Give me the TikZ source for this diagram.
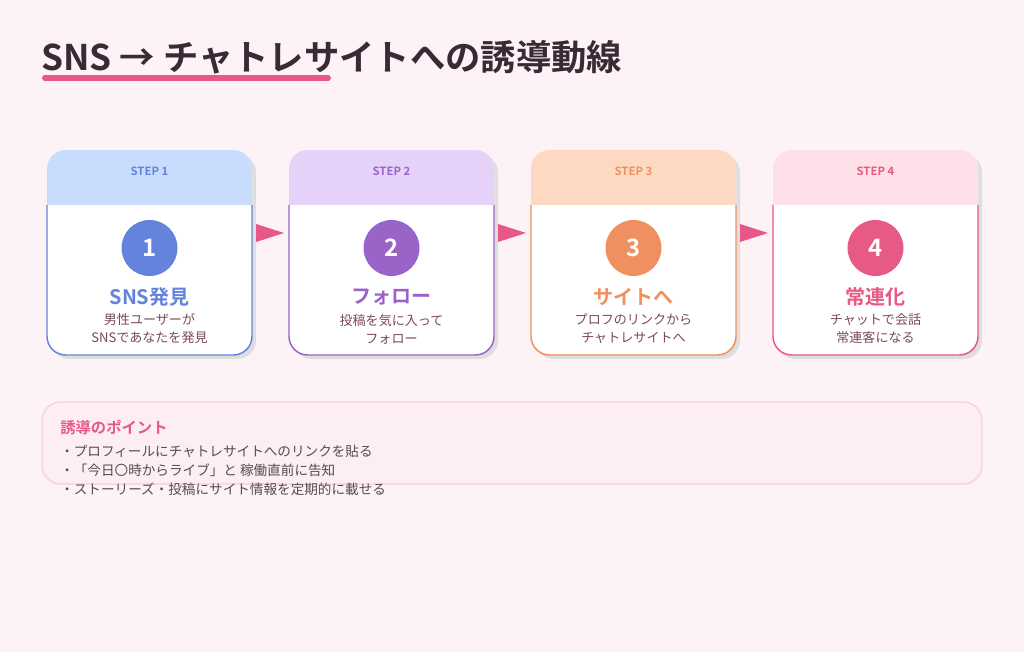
\documentclass[tikz,border=0pt]{standalone}
\usepackage{fontspec}
\setmainfont{Noto Sans CJK JP}[BoldFont={Noto Sans CJK JP Bold}]
\definecolor{bg}{HTML}{FDF3F7}
\definecolor{ink}{HTML}{3A2A35}
\definecolor{sub}{HTML}{7A4A5A}
\definecolor{pk}{HTML}{E8578A}
\definecolor{hA}{HTML}{C8DCFD}\definecolor{cA}{HTML}{6483DC}
\definecolor{hB}{HTML}{E6D2F8}\definecolor{cB}{HTML}{9A63C8}
\definecolor{hC}{HTML}{FDD9C2}\definecolor{cC}{HTML}{F09060}
\definecolor{hD}{HTML}{FDE0E8}\definecolor{cD}{HTML}{E65A85}
\tikzset{
 steplbl/.style={font=\bfseries\fontsize{8.5}{8.5}\selectfont},
 ttl/.style={font=\bfseries\fontsize{15}{15}\selectfont},
 subt/.style={text=sub,font=\fontsize{9.8}{13.5}\selectfont,align=center},
 num/.style={circle,minimum size=42pt,inner sep=0pt,text=white,font=\bfseries\fontsize{18}{18}\selectfont},
 arr/.style={fill=pk,draw=none},
}
\newcommand{\card}[8]{% x, header col, main col, step, num, title, sub1, sub2
 \fill[black!13,rounded corners=14] (#1+4,154) rectangle (#1+209,359);
 \fill[white,rounded corners=14] (#1,150) rectangle (#1+205,355);
 \begin{scope}
 \clip[rounded corners=14] (#1,150) rectangle (#1+205,355);
 \fill[#2] (#1,150) rectangle (#1+205,205);
 \end{scope}
 \draw[#3,line width=1.1pt,rounded corners=14] (#1,205) -- (#1,355) -- (#1+205,355) -- (#1+205,205);
 \node[steplbl,text=#3] (s#5) at (#1+102.5,171) {STEP #5};
 \node[num,fill=#3] (n#5) at (#1+102.5,248) {#5};
 \node[ttl,text=#3] (t#5) at (#1+102.5,297) {#6};
 \node[subt] (d#5) at (#1+102.5,329) {#7\\#8};
}
\begin{document}
\begin{tikzpicture}[x=0.75pt,y=-0.75pt]
\fill[bg] (0,0) rectangle (1024,652);
\useasboundingbox (0,0) rectangle (1024,652);
\draw[pk,line width=4.5pt,line cap=round] (45,78) -- (328,78);
\node[anchor=west,text=ink,font=\bfseries\fontsize{26.5}{26.5}\selectfont,inner sep=0] (title) at (41,57) {SNS → チャトレサイトへの誘導動線};
\card{47}{hA}{cA}{1}{1}{SNS発見}{男性ユーザーが}{SNSであなたを発見}
\card{289}{hB}{cB}{2}{2}{フォロー}{投稿を気に入って}{フォロー}
\card{531}{hC}{cC}{3}{3}{サイトへ}{プロフのリンクから}{チャトレサイトへ}
\card{773}{hD}{cD}{4}{4}{常連化}{チャットで会話}{常連客になる}
\foreach \x in {256,498,740}{\fill[arr] (\x,224) -- (\x+28,233) -- (\x,242) -- cycle;}
\draw[fill=pk!10,draw=pk!30,line width=1pt,rounded corners=14] (42,402) rectangle (982,484);
\node[anchor=west,text=pk,font=\bfseries\fontsize{11.5}{11.5}\selectfont,inner sep=0] (ph) at (60,428) {誘導のポイント};
\node[anchor=north west,text=ink!85,font=\fontsize{10.2}{14.2}\selectfont,align=left,inner sep=0] (pl) at (60,445) {・プロフィールにチャトレサイトへのリンクを貼る\\・「今日〇時からライブ」と 稼働直前に告知\\・ストーリーズ・投稿にサイト情報を定期的に載せる};
\end{tikzpicture}
\end{document}
